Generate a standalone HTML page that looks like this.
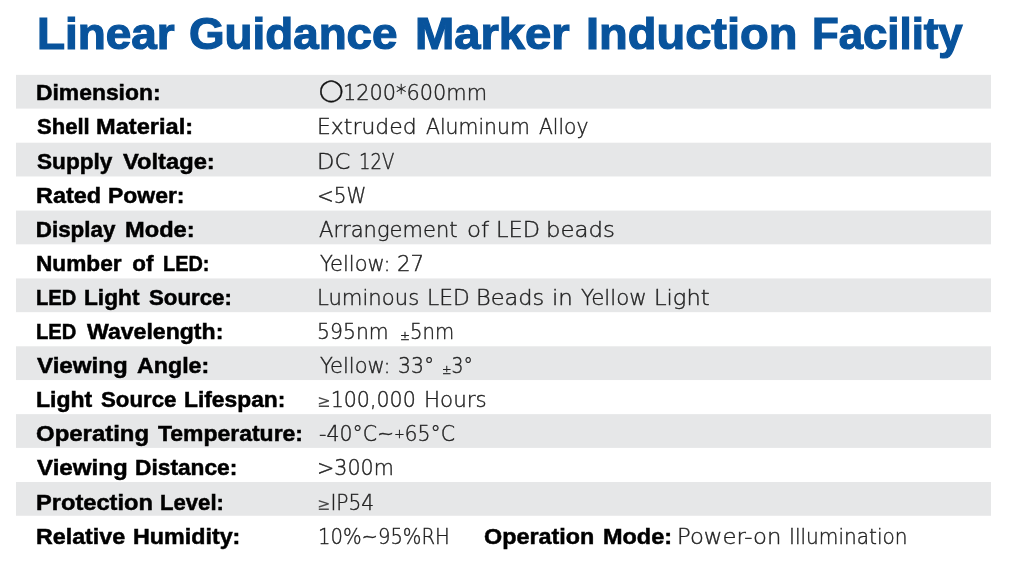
<!DOCTYPE html>
<html lang="en">
<head>
<meta charset="utf-8">
<title>Linear Guidance Marker Induction Facility</title>
<style>
html,body{margin:0;padding:0;background:#fff;}
body{width:1024px;height:576px;position:relative;overflow:hidden;font-family:"Liberation Sans",sans-serif;}
h1{position:absolute;left:0;top:7px;margin:0;width:1024px;height:54px;font:bold 44px/54px "Liberation Sans",sans-serif;color:#08539c;-webkit-text-stroke:1.2px #08539c;}
h1 span,.t>span{position:absolute;top:0;white-space:nowrap;transform-origin:0 50%;}
.s{position:absolute;left:0;top:0;fill:#e6e7e8;}
.t{position:absolute;left:0;width:1024px;height:34px;line-height:34px;}
.l{font:bold 22.4px/34px "Liberation Sans",sans-serif;color:#000;-webkit-text-stroke:0.5px #000;word-spacing:2px;}
.v{font:200 21.5px/34px "DejaVu Sans Light","DejaVu Sans","Liberation Sans",sans-serif;color:#222;-webkit-text-stroke:0.4px #222;word-spacing:3px;}
.o{font:21.6px/34px "DejaVu Sans",sans-serif;color:#111;-webkit-text-stroke:0.4px #111;margin-top:-3.4px;}
.m{font:17px/1 "DejaVu Sans",sans-serif;-webkit-text-stroke:0;color:#4a4a4a;}
.p{font-size:13px;line-height:1;position:relative;}
.p.u{top:-3px;}
.p.d{top:1px;}
</style>
</head>
<body>
<h1><span style="left:36.55px;transform:scaleX(1.0428)">Linear</span> <span style="left:189.45px;transform:scaleX(1.0398)">Guidance</span> <span style="left:415.09px;transform:scaleX(1.0718)">Marker</span> <span style="left:586.00px;transform:scaleX(1.0677)">Induction</span> <span style="left:812.46px;transform:scaleX(0.9937)">Facility</span> </h1>
<svg class="s" width="1024" height="576" viewBox="0 0 1024 576" aria-hidden="true"><rect x="16" y="74.85" width="975" height="33.75"/><rect x="16" y="142.71" width="975" height="33.75"/><rect x="16" y="210.57" width="975" height="33.75"/><rect x="16" y="278.43" width="975" height="33.75"/><rect x="16" y="346.29" width="975" height="33.75"/><rect x="16" y="414.15" width="975" height="33.75"/><rect x="16" y="482.01" width="975" height="33.75"/></svg>
<div class="t" style="top:76px"><span class="l" style="left:35.72px;transform:scaleX(1.0215)">Dimension:</span> <span class="v o" style="left:318.99px;transform:scaleX(1.0112)">◯</span> <span class="v" style="left:342.56px;transform:scaleX(0.9705)">1200*600mm</span> </div>
<div class="t" style="top:110px"><span class="l" style="left:36.75px;transform:scaleX(0.9856)">Shell</span> <span class="l" style="left:96.18px;transform:scaleX(1.0539)">Material:</span> <span class="v" style="left:317.21px;transform:scaleX(1.0188)">Extruded</span> <span class="v" style="left:426.26px;transform:scaleX(0.9487)">Aluminum</span> <span class="v" style="left:539.26px;transform:scaleX(0.9417)">Alloy</span> </div>
<div class="t" style="top:145px"><span class="l" style="left:36.75px;transform:scaleX(1.0100)">Supply</span> <span class="l" style="left:122.76px;transform:scaleX(1.0588)">Voltage:</span> <span class="v" style="left:317.13px;transform:scaleX(1.0526)">DC</span> <span class="v" style="left:359.08px;transform:scaleX(0.8365)">12V</span> </div>
<div class="t" style="top:179px"><span class="l" style="left:35.69px;transform:scaleX(1.0460)">Rated</span> <span class="l" style="left:108.22px;transform:scaleX(1.0245)">Power:</span> <span class="v" style="left:317.13px;transform:scaleX(0.9340)">&lt;5W</span> </div>
<div class="t" style="top:213px"><span class="l" style="left:35.75px;transform:scaleX(1.0000)">Display</span> <span class="l" style="left:125.18px;transform:scaleX(1.0558)">Mode:</span> <span class="v" style="left:319.26px;transform:scaleX(0.9786)">Arrangement</span> <span class="v" style="left:466.65px;transform:scaleX(1.0641)">of</span> <span class="v" style="left:495.90px;transform:scaleX(1.0458)">LED</span> <span class="v" style="left:546.11px;transform:scaleX(1.0612)">beads</span> </div>
<div class="t" style="top:247px"><span class="l" style="left:35.73px;transform:scaleX(1.0120)">Number</span> <span class="l" style="left:132.25px;transform:scaleX(1.0000)">of</span> <span class="l" style="left:162.89px;transform:scaleX(0.8883)">LED:</span> <span class="v" style="left:320.26px;transform:scaleX(0.9783)">Yellow:</span> <span class="v" style="left:397.01px;transform:scaleX(0.9896)">27</span> </div>
<div class="t" style="top:281px"><span class="l" style="left:35.87px;transform:scaleX(0.9012)">LED</span> <span class="l" style="left:84.48px;transform:scaleX(1.0140)">Light</span> <span class="l" style="left:149.25px;transform:scaleX(0.9938)">Source:</span> <span class="v" style="left:317.28px;transform:scaleX(0.9850)">Luminous</span> <span class="v" style="left:427.22px;transform:scaleX(1.0131)">LED</span> <span class="v" style="left:476.39px;transform:scaleX(1.0447)">Beads</span> <span class="v" style="left:551.60px;transform:scaleX(1.0656)">in</span> <span class="v" style="left:581.25px;transform:scaleX(0.9922)">Yellow</span> <span class="v" style="left:654.14px;transform:scaleX(1.0500)">Light</span> </div>
<div class="t" style="top:315px"><span class="l" style="left:35.87px;transform:scaleX(0.9012)">LED</span> <span class="l" style="left:86.76px;transform:scaleX(1.0306)">Wavelength:</span> <span class="v" style="left:317.34px;transform:scaleX(0.9477)">595nm</span> <span class="v" style="left:399.83px;transform:scaleX(0.9152)"><span class="p d">±</span>5nm</span> </div>
<div class="t" style="top:349px"><span class="l" style="left:37.02px;transform:scaleX(1.0781)">Viewing</span> <span class="l" style="left:136.74px;transform:scaleX(1.0370)">Angle:</span> <span class="v" style="left:320.26px;transform:scaleX(0.9783)">Yellow:</span> <span class="v" style="left:397.81px;transform:scaleX(0.9496)">33°</span> <span class="v" style="left:442.38px;transform:scaleX(0.8750)"><span class="p d">±</span>3°</span> </div>
<div class="t" style="top:383px"><span class="l" style="left:35.71px;transform:scaleX(1.0280)">Light</span> <span class="l" style="left:101.25px;transform:scaleX(0.9934)">Source</span> <span class="l" style="left:184.48px;transform:scaleX(1.0181)">Lifespan:</span> <span class="v" style="left:317.32px;transform:scaleX(0.9574)"><span class="m">≥</span>100,000</span> <span class="v" style="left:424.26px;transform:scaleX(0.9958)">Hours</span> </div>
<div class="t" style="top:417px"><span class="l" style="left:36.47px;transform:scaleX(1.0697)">Operating</span> <span class="l" style="left:158.25px;transform:scaleX(1.0250)">Temperature:</span> <span class="v" style="left:318.79px;transform:scaleX(0.9522)">-40°C~<span class="p u">+</span>65°C</span> </div>
<div class="t" style="top:451px"><span class="l" style="left:37.02px;transform:scaleX(1.0781)">Viewing</span> <span class="l" style="left:135.23px;transform:scaleX(1.0153)">Distance:</span> <span class="v" style="left:317.08px;transform:scaleX(0.9605)">&gt;300m</span> </div>
<div class="t" style="top:486px"><span class="l" style="left:35.68px;transform:scaleX(1.0553)">Protection</span> <span class="l" style="left:160.27px;transform:scaleX(0.9879)">Level:</span> <span class="v" style="left:317.36px;transform:scaleX(0.9394)"><span class="m">≥</span>IP54</span> </div>
<div class="t" style="top:520px"><span class="l" style="left:35.70px;transform:scaleX(1.0386)">Relative</span> <span class="l" style="left:132.70px;transform:scaleX(1.0399)">Humidity:</span> <span class="v" style="left:318.18px;transform:scaleX(0.9109)">10%~95%RH</span> <span class="l" style="left:484.23px;transform:scaleX(1.0432)">Operation</span> <span class="l" style="left:603.44px;transform:scaleX(1.0478)">Mode:</span> <span class="v" style="left:677.12px;transform:scaleX(1.0584)">Power-on</span> <span class="v" style="left:788.90px;transform:scaleX(0.9347)">Illumination</span> </div>
</body>
</html>
